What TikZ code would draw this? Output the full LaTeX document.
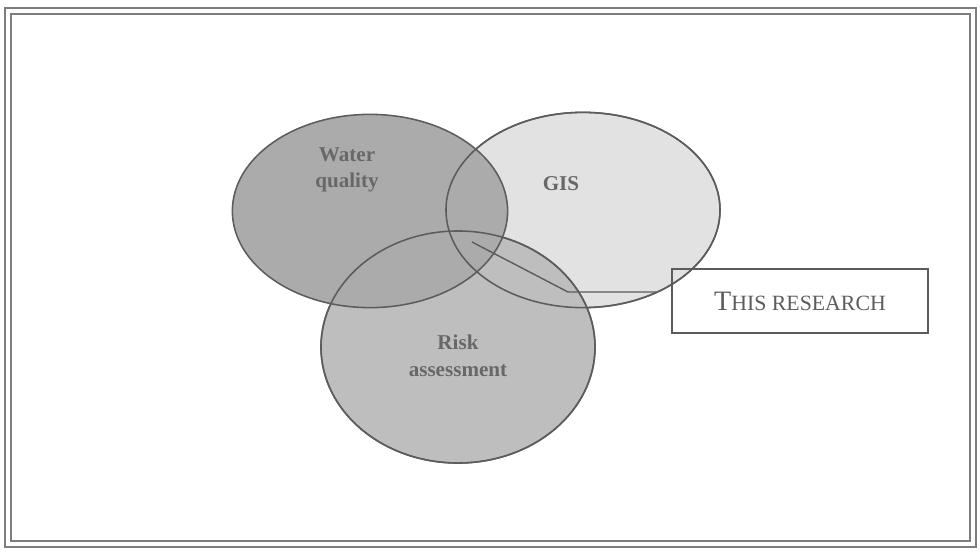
\documentclass[tikz,border=0pt]{standalone}
\usepackage{fontspec}
\setmainfont{Liberation Serif}
\usetikzlibrary{shapes.geometric}

\definecolor{rim}{HTML}{5C5C5C}
\definecolor{wqgray}{HTML}{ABABAB}
\definecolor{gisgray}{HTML}{E2E2E2}
\definecolor{riskgray}{HTML}{BEBEBE}
\definecolor{labelgray}{HTML}{686868}

\tikzset{
  venn/.style={ellipse, inner sep=0pt, draw=rim, line width=1.1pt},
  lbl/.style={align=center, text=labelgray, font=\fontsize{15}{19}\selectfont\bfseries},
  frame/.style={draw=rim!80, line width=1.2pt},
  callout/.style={draw=rim, line width=0.9pt, minimum width=6.4cm, minimum height=1.6cm, inner sep=0pt}
}

\begin{document}
\begin{tikzpicture}[x=0.025cm, y=-0.025cm]
\useasboundingbox (0,0) rectangle (980,552);
% double frame
\draw[frame] (5,8) rectangle (976,547);
\draw[frame] (11,14) rectangle (970,541);
% the three sets
\node[venn, fill=gisgray, minimum width=6.85cm, minimum height=4.88cm] (gis) at (583,210) {};
\node[venn, fill=riskgray, minimum width=6.85cm, minimum height=5.8cm] (risk) at (458,347) {};
\node[venn, fill=wqgray, minimum width=6.88cm, minimum height=4.83cm] (wq) at (370,211) {};
% outlines again on top
\node[venn, minimum width=6.85cm, minimum height=4.88cm] at (gis) {};
\node[venn, minimum width=6.85cm, minimum height=5.8cm] at (risk) {};
% labels
\node[lbl] (wqtext) at (347,170) {Water\\quality};
\node[lbl] (gistext) at (561,184) {GIS};
\node[lbl] (risktext) at (458,356) {Risk\\assessment};
% callout
\node[callout] (box) at (800,301) {\color{rim}{\fontsize{20}{22}\selectfont T}{\fontsize{15.5}{22}\selectfont HIS RESEARCH}};
\coordinate (tip) at (472,242);
\coordinate (bend) at (568,292);
\coordinate (tail) at (656,292);
\draw[rim, line width=1pt] (tip) -- (bend) -- (tail);
\end{tikzpicture}
\end{document}
